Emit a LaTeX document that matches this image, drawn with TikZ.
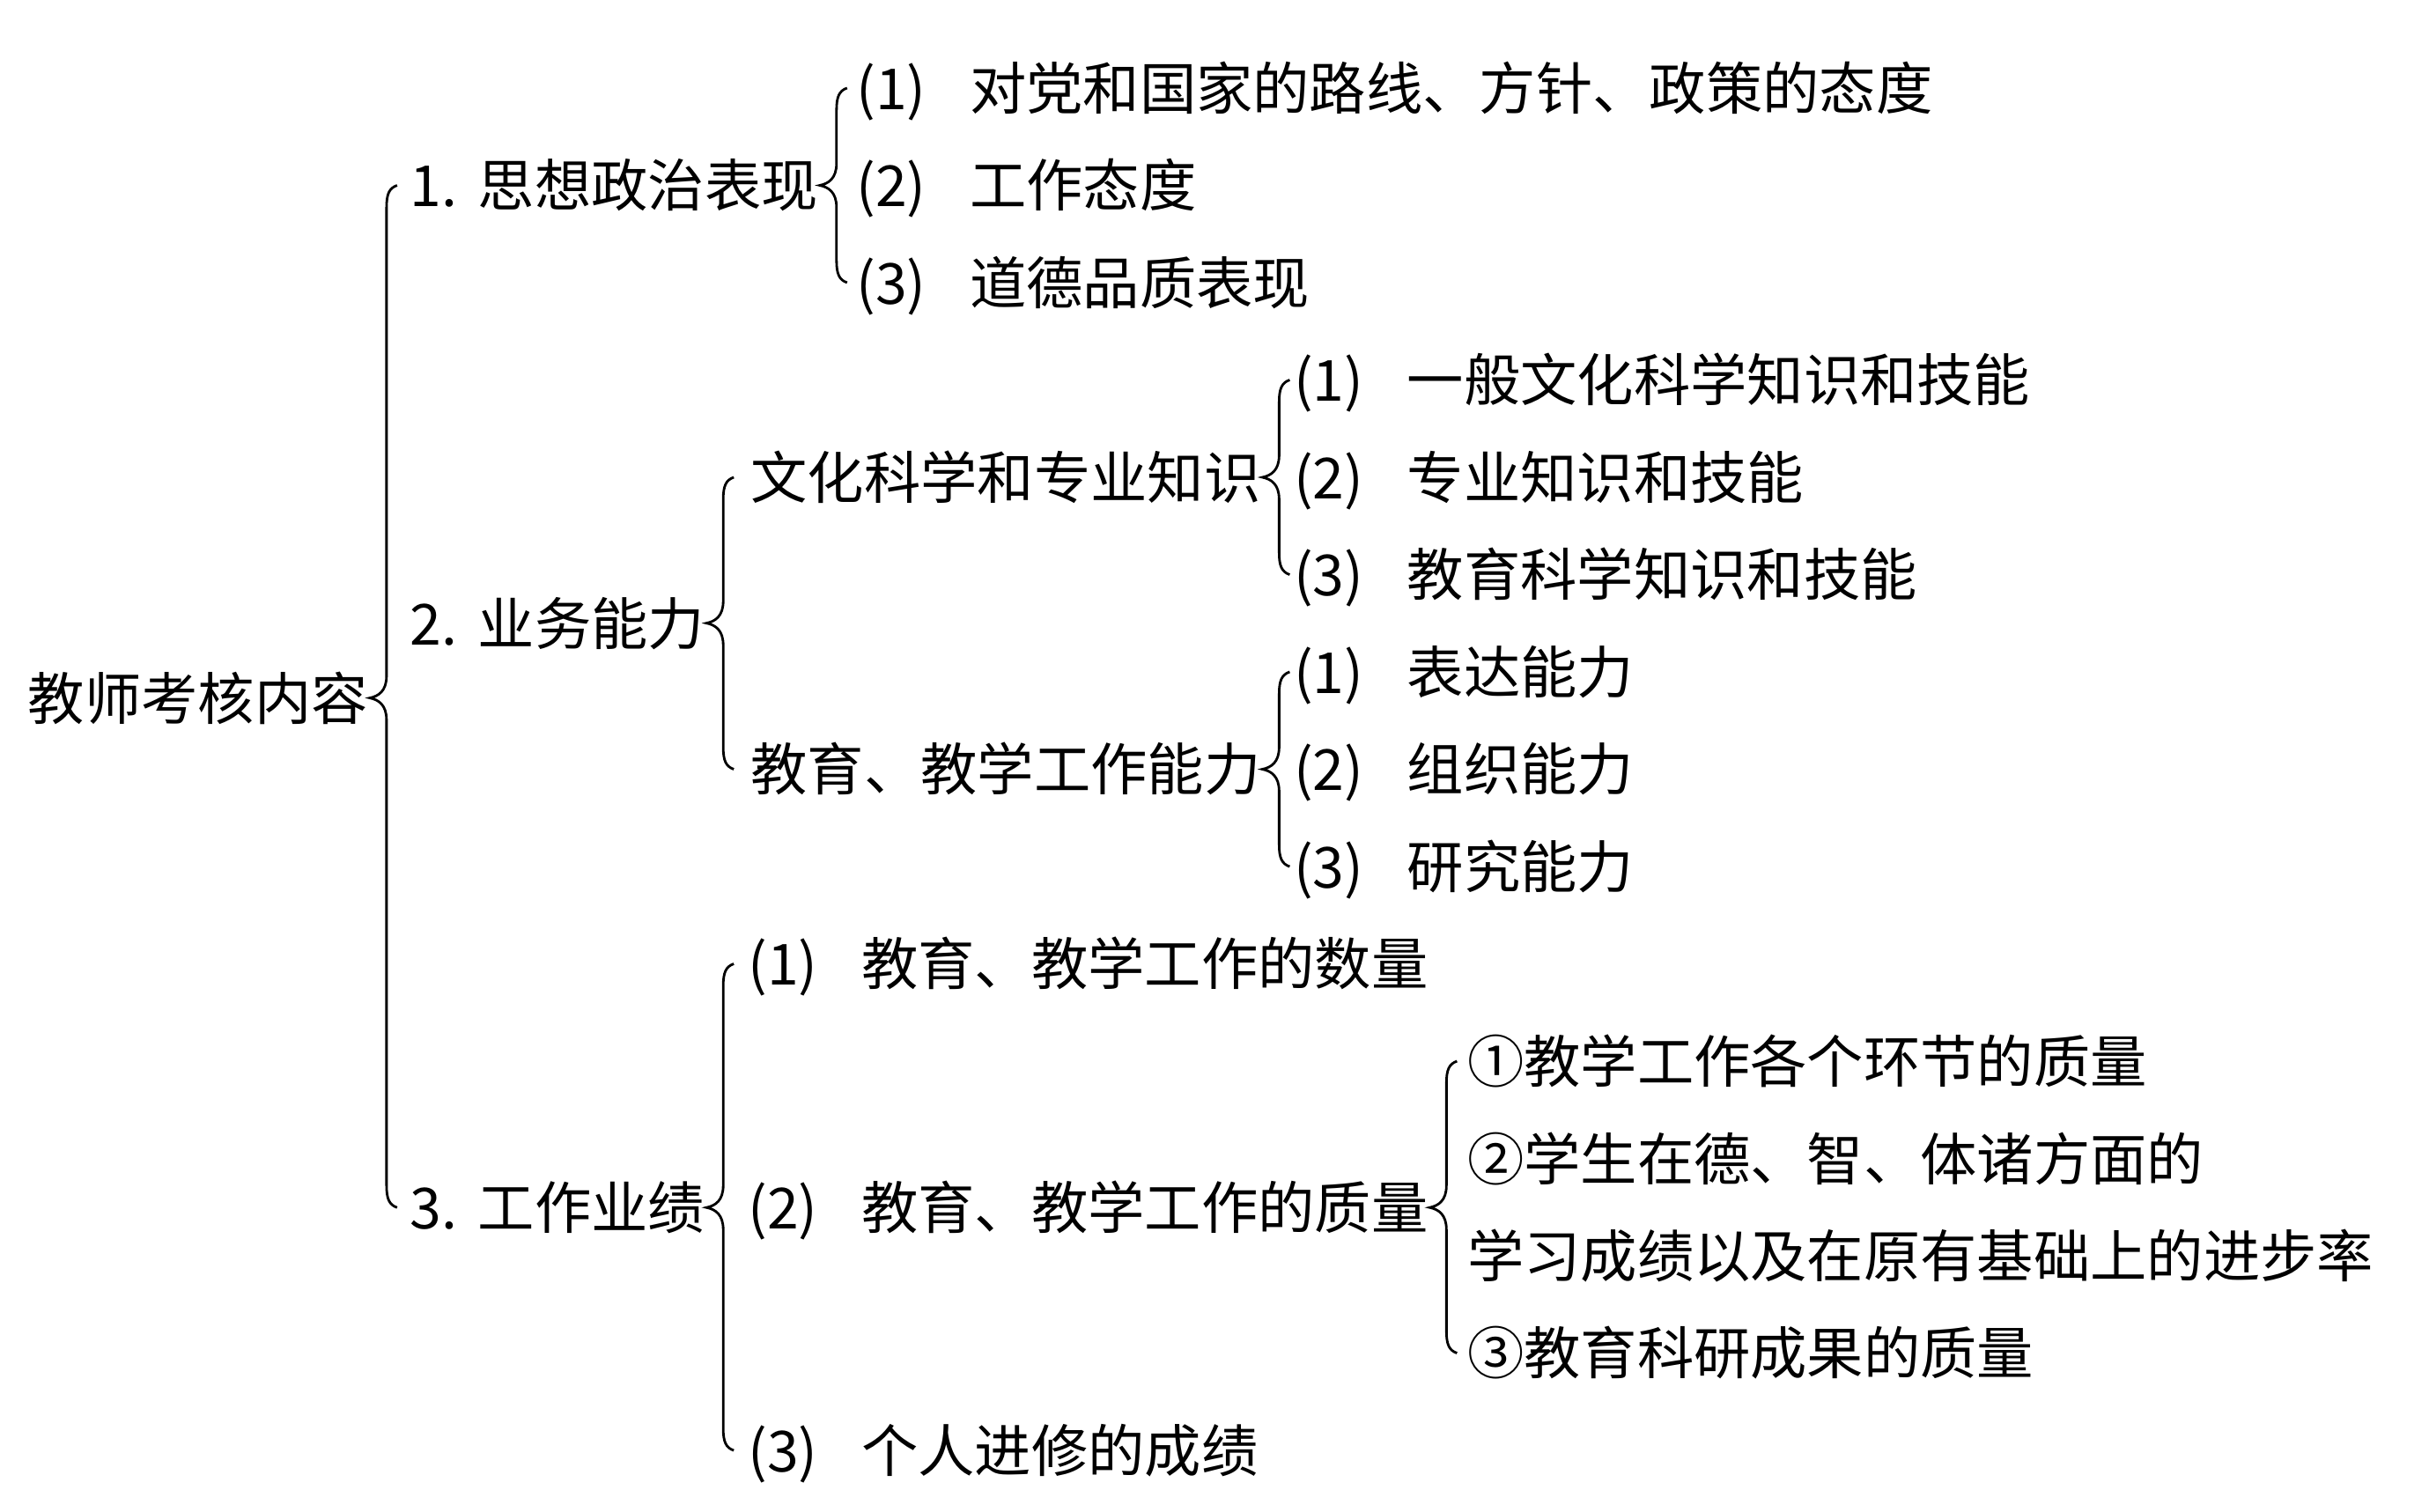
\documentclass[tikz,border=0pt]{standalone}
\usepackage{fontspec}
\newfontfamily\cjk{Noto Sans CJK SC}
\usetikzlibrary{calc}
\newcommand{\parnum}[1]{\makebox[2em][l]{(#1)}}
\newcommand{\dotnum}[1]{\makebox[1.2em][l]{#1.}}
\tikzset{
  txt/.style={anchor=west, inner sep=0pt, outer sep=0pt,
    font=\cjk\fontsize{18.3pt}{22pt}\selectfont, text height=16.1pt, text depth=2.2pt},
  bline/.style={line width=0.8pt, black}
}
\newcommand{\cbr}[3]{%
  \draw[bline] let \p1=(#1.east), \p2=(#2.west), \p3=(#3.west) in
    ({\x1+0.33cm},\y2) .. controls ({\x1+0.24cm},{\y2-0.03cm}) and ({\x1+0.21cm},{\y2-0.1cm}) .. ({\x1+0.21cm},{\y2-0.25cm})
    -- ({\x1+0.21cm},{\y1+0.25cm}) .. controls ({\x1+0.21cm},{\y1+0.08cm}) and ({\x1+0.12cm},{\y1+0.02cm}) .. ({\x1+0.02cm},\y1)
    .. controls ({\x1+0.12cm},{\y1-0.02cm}) and ({\x1+0.21cm},{\y1-0.08cm}) .. ({\x1+0.21cm},{\y1-0.25cm})
    -- ({\x1+0.21cm},{\y3+0.25cm}) .. controls ({\x1+0.21cm},{\y3+0.1cm}) and ({\x1+0.24cm},{\y3+0.03cm}) .. ({\x1+0.33cm},\y3);
}
\begin{document}
\begin{tikzpicture}
\fill[white] (0,0) rectangle (27.58,-17.16);
\useasboundingbox (0,0) rectangle (27.58,-17.16);
\begin{scope}[x=0.01cm,y=-0.01cm]
\node[txt] (root) at (32,793) {教师考核内容};
% level 1
\node[txt] (a) at (466,210.6) {\dotnum{1}思想政治表现};
\node[txt] (b) at (466,708) {\dotnum{2}业务能力};
\node[txt] (c) at (466,1372) {\dotnum{3}工作业绩};
% a children
\node[txt] (a1) at (973,100) {\parnum{1}对党和国家的路线、方针、政策的态度};
\node[txt] (a2) at (973,210.6) {\parnum{2}工作态度};
\node[txt] (a3) at (973,321.1) {\parnum{3}道德品质表现};
% b children
\node[txt] (b1) at (853,542.3) {文化科学和专业知识};
\node[txt] (b2) at (853,874) {教育、教学工作能力};
\node[txt] (b11) at (1470,431.7) {\parnum{1}一般文化科学知识和技能};
\node[txt] (b12) at (1470,542.3) {\parnum{2}专业知识和技能};
\node[txt] (b13) at (1470,652.9) {\parnum{3}教育科学知识和技能};
\node[txt] (b21) at (1470,763.4) {\parnum{1}表达能力};
\node[txt] (b22) at (1470,874) {\parnum{2}组织能力};
\node[txt] (b23) at (1470,984.6) {\parnum{3}研究能力};
% c children
\node[txt] (c1) at (850,1095.1) {\parnum{1}教育、教学工作的数量};
\node[txt] (c2) at (850,1372) {\parnum{2}教育、教学工作的质量};
\node[txt] (c3) at (850,1648) {\parnum{3}个人进修的成绩};
\node[txt] (c21) at (1667,1205.7) {①教学工作各个环节的质量};
\node[txt] (c22) at (1667,1316.3) {②学生在德、智、体诸方面的};
\node[txt] (c2x) at (1667,1426.8) {学习成绩以及在原有基础上的进步率};
\node[txt] (c23) at (1667,1537.4) {③教育科研成果的质量};
\end{scope}
\cbr{root}{a}{c}
\cbr{a}{a1}{a3}
\cbr{b}{b1}{b2}
\cbr{b1}{b11}{b13}
\cbr{b2}{b21}{b23}
\cbr{c}{c1}{c3}
\cbr{c2}{c21}{c23}
\end{tikzpicture}
\end{document}
